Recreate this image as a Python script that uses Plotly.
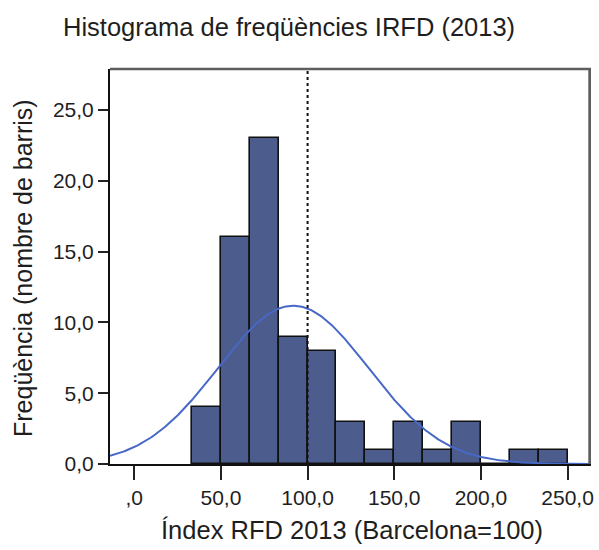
import numpy as np
import plotly.graph_objects as go

# ---- data ----
bin_edges = [33.33, 50.0, 66.67, 83.33, 100.0, 116.67, 133.33, 150.0,
             166.67, 183.33, 200.0, 216.67, 233.33, 250.0]
counts = [4, 16, 23, 9, 8, 3, 1, 3, 1, 3, 0, 1, 1]
fit_mean = 91.7
fit_sd = 43.4
reference_value = 100
x_tick_vals = [0, 50, 100, 150, 200, 250]
x_tick_text = [",0", "50,0", "100,0", "150,0", "200,0", "250,0"]
y_tick_vals = [0, 5, 10, 15, 20, 25]
y_tick_text = ["0,0", "5,0", "10,0", "15,0", "20,0", "25,0"]

title_text = "Histograma de freqüències IRFD (2013)"
x_title = "Índex RFD 2013 (Barcelona=100)"
y_title = "Freqüència (nombre de barris)"

# ---- derived ----
edges = np.array(bin_edges)
centers = (edges[:-1] + edges[1:]) / 2
widths = np.diff(edges)
n_total = sum(counts)
bw = float(np.mean(widths))

x_min, x_max = -14.0, 263.5
y_min, y_max = 0, 27.9

xs = np.linspace(x_min, x_max, 400)
ys = n_total * bw / (fit_sd * np.sqrt(2 * np.pi)) * np.exp(-0.5 * ((xs - fit_mean) / fit_sd) ** 2)

FONT = "Liberation Sans, Arial, sans-serif"
TXT = "#1e1e1e"

fig = go.Figure()
fig.add_trace(go.Bar(
    x=centers, y=counts, width=widths,
    marker=dict(color="rgb(76,92,140)", line=dict(color="#111111", width=1.6)),
    showlegend=False, hoverinfo="x+y",
))
fig.add_trace(go.Scatter(
    x=xs, y=ys, mode="lines",
    line=dict(color="rgb(72,104,200)", width=2),
    showlegend=False, hoverinfo="skip", cliponaxis=True,
))

# gray frame: top and right edges of the plot area
fig.add_shape(type="line", xref="paper", yref="paper", x0=0, x1=1, y0=1, y1=1,
              line=dict(color="#5e5e5e", width=2.5), layer="above")
fig.add_shape(type="line", xref="x", yref="y", x0=x_max - 0.7, x1=x_max - 0.7,
              y0=y_min, y1=y_max,
              line=dict(color="#5e5e5e", width=3), layer="above")
# reference dashed line
fig.add_shape(type="line", xref="x", yref="paper",
              x0=reference_value, x1=reference_value, y0=0, y1=1,
              line=dict(color="#111111", width=2, dash="3px,3px"))

fig.update_layout(
    width=599, height=550,
    margin=dict(l=110, r=8, t=69, b=86, autoexpand=False),
    paper_bgcolor="white", plot_bgcolor="white",
    bargap=0,
    font=dict(family=FONT, color=TXT, size=21),
    xaxis=dict(range=[x_min, x_max], tickvals=x_tick_vals, ticktext=x_tick_text,
               automargin=False,
               showgrid=False, zeroline=False, showline=True, linecolor="#111111",
               linewidth=2, ticks="outside", ticklen=14, tickwidth=2, tickcolor="#222222",
               tickfont=dict(size=21, family=FONT, color=TXT)),
    yaxis=dict(range=[y_min, y_max], tickvals=y_tick_vals, ticktext=y_tick_text,
               automargin=False,
               showgrid=False, zeroline=False, showline=True, linecolor="#111111",
               linewidth=2, ticks="outside", ticklen=10, tickwidth=2, tickcolor="#222222",
               tickfont=dict(size=21, family=FONT, color=TXT)),
    annotations=[
        dict(text=title_text, xref="paper", yref="paper", x=0.372, y=1.106,
             showarrow=False, font=dict(size=25.5, family=FONT, color=TXT),
             xanchor="center", yanchor="middle"),
        dict(text=x_title, xref="paper", yref="paper", x=0.503, y=-0.167,
             showarrow=False, font=dict(size=25.5, family=FONT, color=TXT),
             xanchor="center", yanchor="middle"),
        dict(text=y_title, xref="paper", yref="paper", x=-0.181, y=0.496,
             showarrow=False, textangle=-90, font=dict(size=25, family=FONT, color=TXT),
             xanchor="center", yanchor="middle"),
    ],
)

fig.write_html("out.html", config={"displayModeBar": False},
               post_script="document.body.style.margin='0';document.body.style.overflow='hidden';")
